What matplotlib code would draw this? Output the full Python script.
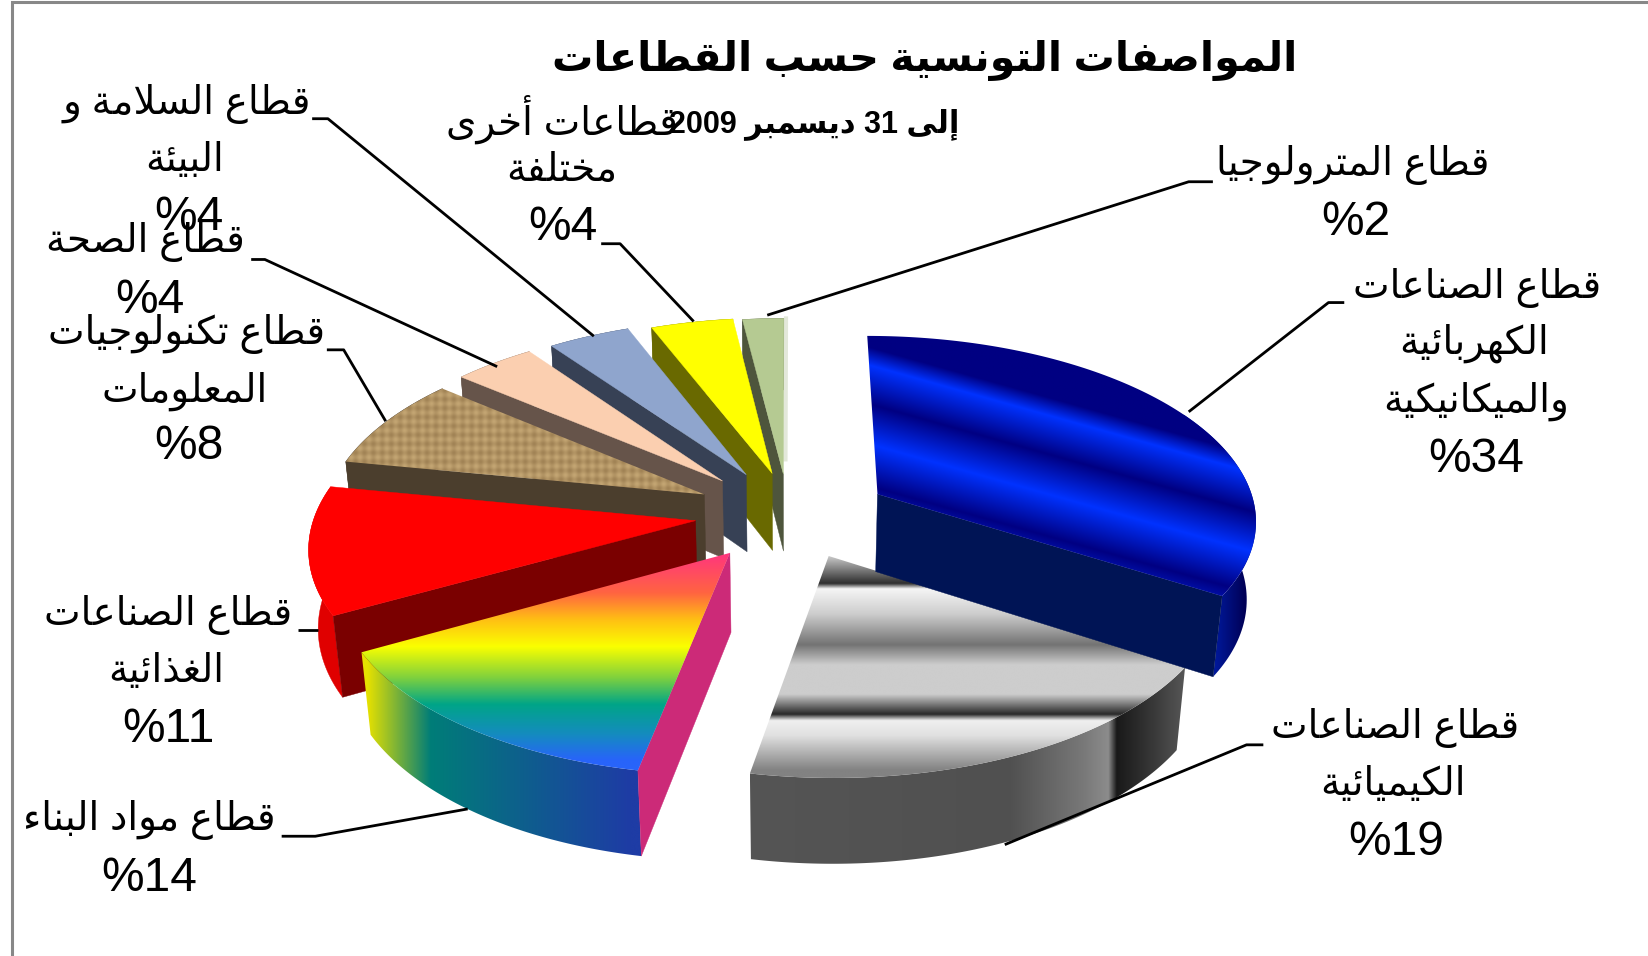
import numpy as np
import matplotlib
matplotlib.use("Agg")
import matplotlib.pyplot as plt
from matplotlib.patches import Polygon

# ---------- data ----------
values = [34, 19, 14, 11, 8, 4, 4, 4, 2]
label_lines = [
    ["قطاع الصناعات", "الكهربائية", "والميكانيكية"],
    ["قطاع الصناعات", "الكيميائية"],
    ["قطاع مواد البناء"],
    ["قطاع الصناعات", "الغذائية"],
    ["قطاع تكنولوجيات", "المعلومات"],
    ["قطاع الصحة"],
    ["قطاع السلامة و", "البيئة"],
    ["قطاعات أخرى", "مختلفة"],
    ["قطاع المترولوجيا"],
]
title_text = "المواصفات التونسية حسب القطاعات"
subtitle_text = "إلى 31 ديسمبر 2009"

# ---------- style / layout ----------
explode = [.285, .22, .25, .24, .25, .25, .235, .22, .21]
nudge = [(-2, 7), (8, 6), (1, 3), (0, 2), (3, 2), (0, 2), (2, 0), (6, 0), (2, 0)]
top_col = [None, None, None, "#ff0000", None, "#fbcfb0", "#8fa5cd", "#ffff00", "#b5ca92"]
cut_col = ["#001455", None, "#cc2a78", "#7a0000", "#4b3e2d", "#66544a", "#374155", "#696900", "#4e553c"]
rim_col = [None, None, None, "#e00000", "#4b3e2d", "#66544a", "#374155", "#696900", "#4e553c"]
# label text line centres (x, y), one list per slice: text lines then the percent
label_pos = [
    [(1405, 274), (1403, 327), (1405, 382), (1405, 435)],
    [(1327, 693), (1325, 747), (1328, 800)],
    [(142, 781), (142, 834)],
    [(160, 585), (158, 640), (160, 692)],
    [(177, 318), (176, 372), (180, 423)],
    [(138, 230), (143, 284)],
    [(178, 99), (176, 153), (180, 205)],
    [(535, 114), (535, 163), (536, 215)],
    [(1287, 157), (1290, 210)],
]
leaders = [
    [(1279, 288), (1264, 288), (1131, 392)],
    [(1202, 709), (1186, 709), (956, 804)],
    [(268, 796), (300, 796), (445, 770)],
    [(284, 600), (303, 600)],
    [(311, 333), (327, 333), (367, 401)],
    [(239, 247), (252, 247), (473, 349)],
    [(297, 113), (312, 113), (565, 320)],
    [(572, 232), (590, 232), (660, 306)],
    [(1154, 173), (1131, 173), (730, 300)],
]
CX, CY, RX, KY, P, Q, TH = 748, 487, 362, 175, .125, .02, 76

# ---------- Arabic shaping for a renderer without bidi ----------
_forms = {"ء": (0xFE80,), "آ": (0xFE81, 0xFE82), "أ": (0xFE83, 0xFE84), "ؤ": (0xFE85, 0xFE86),
          "إ": (0xFE87, 0xFE88), "ئ": (0xFE89, 0xFE8A, 0xFE8B, 0xFE8C), "ا": (0xFE8D, 0xFE8E),
          "ة": (0xFE93, 0xFE94), "د": (0xFEA9, 0xFEAA), "ذ": (0xFEAB, 0xFEAC), "ر": (0xFEAD, 0xFEAE),
          "ز": (0xFEAF, 0xFEB0), "و": (0xFEED, 0xFEEE), "ى": (0xFEEF, 0xFEF0)}
for ch, base in {"ب": 0xFE8F, "ت": 0xFE95, "ث": 0xFE99, "ج": 0xFE9D, "ح": 0xFEA1, "خ": 0xFEA5,
                 "س": 0xFEB1, "ش": 0xFEB5, "ص": 0xFEB9, "ض": 0xFEBD, "ط": 0xFEC1, "ظ": 0xFEC5,
                 "ع": 0xFEC9, "غ": 0xFECD, "ف": 0xFED1, "ق": 0xFED5, "ك": 0xFED9, "ل": 0xFEDD,
                 "م": 0xFEE1, "ن": 0xFEE5, "ه": 0xFEE9, "ي": 0xFEF1}.items():
    _forms[ch] = (base, base + 1, base + 2, base + 3)
_lam = {"ا": (0xFEFB, 0xFEFC), "أ": (0xFEF7, 0xFEF8), "إ": (0xFEF9, 0xFEFA), "آ": (0xFEF5, 0xFEF6)}


def shape_word(w):
    out, i = [], 0
    joins = lambda c: c in _forms and len(_forms[c]) == 4
    prev_join = False
    while i < len(w):
        c = w[i]
        if c == "ل" and i + 1 < len(w) and w[i + 1] in _lam:
            out.append(chr(_lam[w[i + 1]][1 if prev_join else 0]))
            i += 2
            prev_join = False
            continue
        f = _forms.get(c)
        if f is None:
            out.append(c)
            prev_join = False
            i += 1
            continue
        nxt = i + 1 < len(w) and w[i + 1] in _forms
        nj = nxt and joins(c)
        if len(f) == 1:
            g = f[0]
        elif prev_join and nj:
            g = f[3]
        elif prev_join:
            g = f[1]
        elif nj:
            g = f[2]
        else:
            g = f[0]
        out.append(chr(g))
        prev_join = joins(c)
        i += 1
    return "".join(out)


def ar(s):
    parts = []
    for w in s.split(" "):
        parts.append(w if w.isdigit() else shape_word(w)[::-1])
    return " ".join(parts[::-1])


# ---------- projection of the exploded pie ----------
def proj(X, Y, down=0.0, off=(0, 0)):
    w = 1 - P * Y + Q * down
    return CX + off[0] + RX * X / w, CY + off[1] + (KY * Y + TH * down) / w


def slice_geo(a0, a1, e):
    m = np.radians((a0 + a1) / 2)
    ox, oy = e * np.sin(m), -e * np.cos(m)
    t = np.radians(np.linspace(a0, a1, 120))
    rim = (ox + np.sin(t), oy - np.cos(t))
    return (ox, oy), rim


fig = plt.figure(figsize=(16.48, 9.56), dpi=100, facecolor="white")
ax = fig.add_axes([0, 0, 1, 1])
ax.set_xlim(0, 1568)
ax.set_ylim(910, 0)
ax.axis("off")


def ramp(u, stops):
    pos = [s[0] for s in stops]
    return np.dstack([np.interp(u, pos, [s[1][k] / 255 for s in stops]) for k in range(3)])


def fill_image(poly_xy, func, z):
    pts = np.asarray(poly_xy)
    x0, x1, y0, y1 = pts[:, 0].min(), pts[:, 0].max(), pts[:, 1].min(), pts[:, 1].max()
    xx, yy = np.meshgrid(np.arange(x0, x1 + 1, .5), np.arange(y0, y1 + 1, .5))
    im = ax.imshow(func(xx, yy), extent=(x0, x1 + 1, y1 + 1, y0), aspect="auto", zorder=z,
                   interpolation="bilinear")
    clip = Polygon(pts, closed=True, transform=ax.transData, fc="none", ec="none")
    ax.add_patch(clip)
    im.set_clip_path(clip)


def blue_top(x, y):
    navy, bright = (0, 0, 130), (0, 50, 255)
    return ramp(y - .28 * (x - 834), [(285, navy), (333, navy), (350, bright), (387, navy),
                                      (425, bright), (465, navy), (505, bright)])


def blue_rim(x, y):
    return ramp(x, [(1150, (0, 30, 170)), (1185, (0, 0, 85)), (1198, (0, 30, 170))])


def grey_top(x, y):
    g = lambda v: (v, v, v)
    return ramp(y, [(528, g(215)), (556, g(45)), (561, g(245)), (585, g(205)), (614, g(115)), (633, g(205)),
                    (661, g(205)), (680, g(40)), (686, g(240)), (700, g(225)), (733, g(130))])


def grey_rim(x, y):
    g = lambda v: (v, v, v)
    return ramp(x, [(705, g(85)), (960, g(80)), (1030, g(120)), (1054, g(140)), (1062, g(25)), (1090, g(50)), (1130, g(90))])


def rainbow_top(x, y):
    return ramp(y, [(525, (255, 50, 130)), (565, (255, 100, 65)), (590, (255, 190, 20)), (616, (250, 255, 0)),
                    (645, (130, 210, 60)), (671, (0, 165, 135)), (699, (20, 140, 190)), (724, (40, 100, 250))])


def rainbow_rim(x, y):
    return ramp(x, [(342, (235, 225, 0)), (350, (230, 225, 0)), (410, (0, 125, 120)), (600, (30, 60, 165))])


def tan_top(x, y):
    v = np.sin(x * 2 * np.pi / 8.5) + np.sin(y * 2 * np.pi / 8.5)
    base = np.array([178, 148, 100]) / 255
    return np.clip(base[None, None, :] + (v[..., None] * np.array([.035, .035, .03])[None, None, :]), 0, 1)


top_func = {0: blue_top, 1: grey_top, 2: rainbow_top, 4: tan_top}
rim_func = {0: blue_rim, 1: grey_rim, 2: rainbow_rim}

# slices are painted from the back round to the front
angles = np.concatenate([[0], np.cumsum(values)]) * 3.6
order = [8, 7, 6, 5, 4, 3, 2, 1, 0]
z = 2
for i in order:
    a0, a1 = angles[i], angles[i + 1]
    off = nudge[i]
    (ox, oy), (rx, ry) = slice_geo(a0, a1, explode[i])
    top = np.column_stack(proj(np.r_[ox, rx], np.r_[oy, ry], 0.0, off))
    tx, ty = proj(rx, ry, 0.0, off)
    bx, by = proj(rx, ry, 1.0, off)
    # only the part of the outer wall that faces the viewer
    vis = np.arange(len(rx)) >= (60 if i == 0 else 0)
    rim_poly = np.r_[np.column_stack([tx[vis], ty[vis]]), np.column_stack([bx[vis], by[vis]])[::-1]]
    ax_, ay_ = proj(ox, oy, 0.0, off)
    abx, aby = proj(ox, oy, 1.0, off)
    # the cut face: end edge for the slice on the right, start edge on the left
    if i == 0:
        cut = [(ax_, ay_), (tx[-1], ty[-1]), (bx[-1], by[-1]), (abx, aby)]
    else:
        cut = [(ax_, ay_), (tx[0], ty[0]), (bx[0], by[0]), (abx, aby)]
    if i in rim_func:
        fill_image(rim_poly, rim_func[i], z)
    else:
        ax.add_patch(Polygon(rim_poly, closed=True, fc=rim_col[i], ec=rim_col[i], lw=.3, zorder=z))
    if cut_col[i]:
        ax.add_patch(Polygon(cut, closed=True, fc=cut_col[i], ec=cut_col[i], lw=.3, zorder=z + .1))
    if i in top_func:
        fill_image(top, top_func[i], z + .2)
    else:
        ax.add_patch(Polygon(top, closed=True, fc=top_col[i], ec=top_col[i], lw=.3, zorder=z + .2))
    if i == 8:  # pale sliver along the far edge of the last slice
        ax.plot([ax_ + 2, tx[-1] + 2], [ay_ - 14, ty[-1]], color="#e3e8da", lw=3, zorder=z + .15)
    z += 1

# ---------- frame ----------
ax.plot([11, 11, 1568], [910, 2, 2], color="#888888", lw=2.2, zorder=1, solid_joinstyle="miter")

# ---------- leader lines ----------
for pts in leaders:
    xs, ys = zip(*pts)
    ax.plot(xs, ys, color="black", lw=2, zorder=30, solid_capstyle="butt")

# ---------- text ----------
FAM = ["Liberation Sans", "DejaVu Sans"]
ax.text(880, 58, ar(title_text), ha="center", va="center", fontsize=29.7, fontweight="bold",
        family=FAM, color="black", zorder=40)
ax.text(775, 118, ar(subtitle_text), ha="center", va="center", fontsize=22, fontweight="bold",
        family=FAM, color="black", zorder=40)
for i, (lines, pos) in enumerate(zip(label_lines, label_pos)):
    for s, (x, y) in zip(lines, pos):
        ax.text(x, y, ar(s), ha="center", va="center", fontsize=28, family=FAM, color="black", zorder=40)
    x, y = pos[-1]
    ax.text(x, y + 2, f"%{values[i]}", ha="center", va="center", fontsize=34.5, family=FAM, color="black", zorder=40)

fig.savefig("out.png", dpi=100, facecolor="white")
